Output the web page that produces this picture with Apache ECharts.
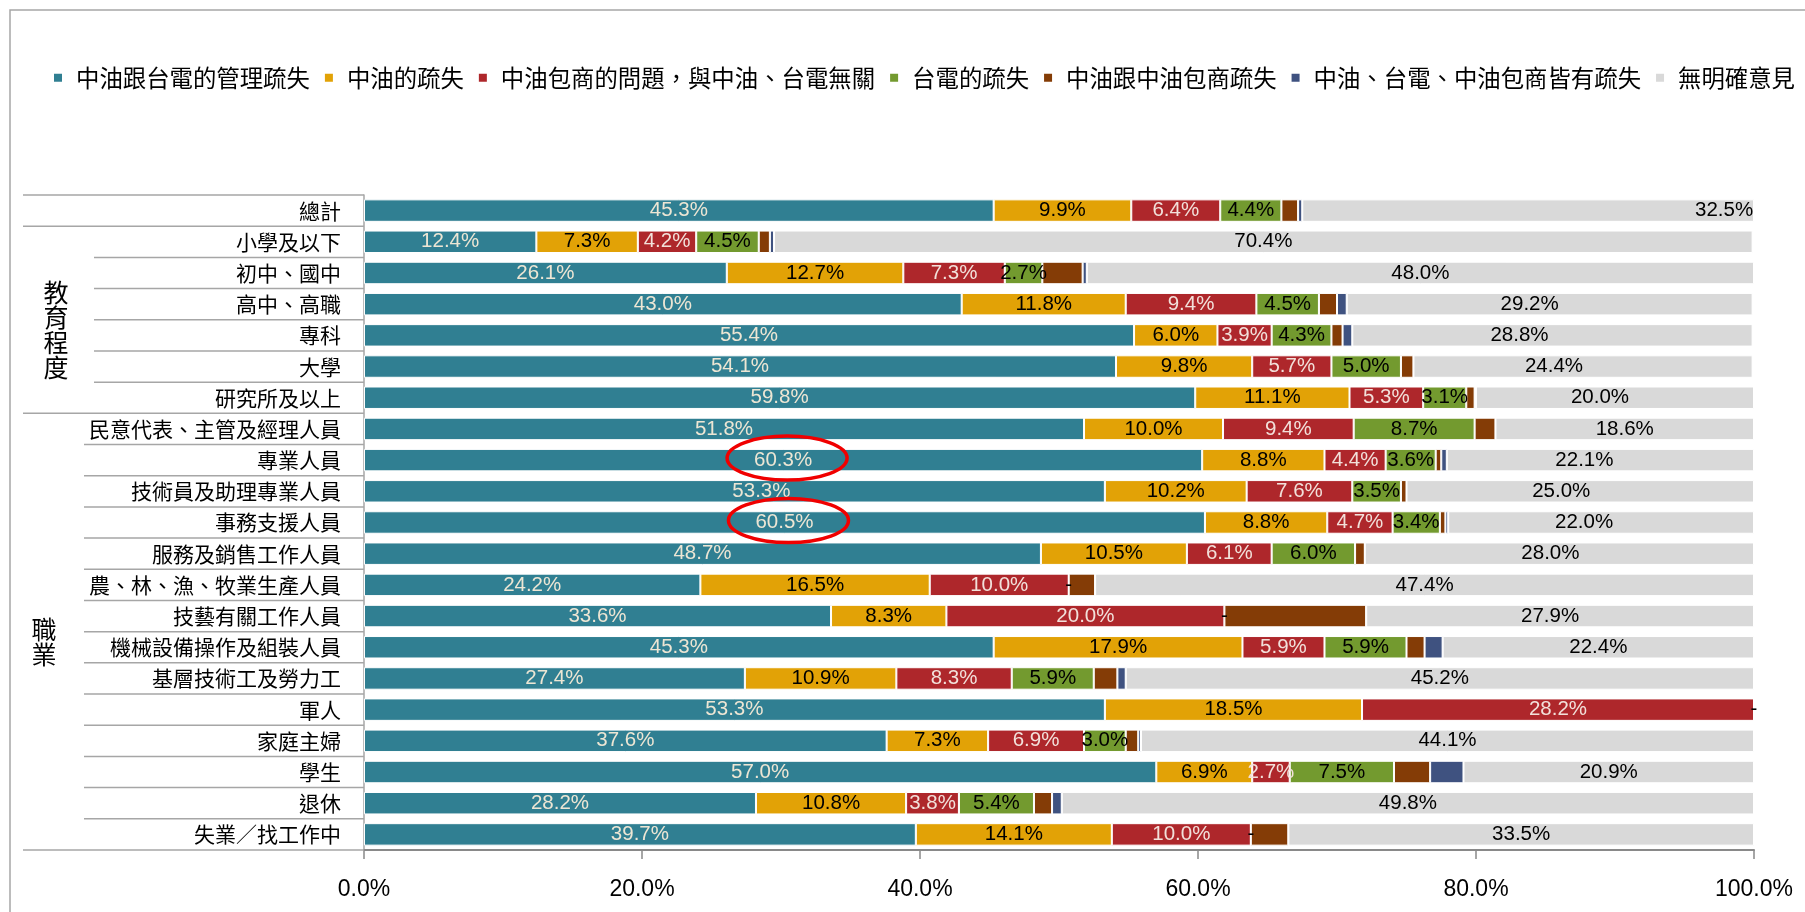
<!DOCTYPE html>
<html>
<head>
<meta charset="utf-8">
<script src="https://cdn.jsdelivr.net/npm/echarts@6/dist/echarts.min.js"></script>
<style>
html,body{margin:0;padding:0;background:#fff;}
#main{width:1805px;height:912px;}
</style>
</head>
<body>
<div id="main"></div>
<script>
// ---------- data ----------
const categories = ['總計','小學及以下','初中、國中','高中、高職','專科','大學','研究所及以上',
  '民意代表、主管及經理人員','專業人員','技術員及助理專業人員','事務支援人員','服務及銷售工作人員',
  '農、林、漁、牧業生產人員','技藝有關工作人員','機械設備操作及組裝人員','基層技術工及勞力工',
  '軍人','家庭主婦','學生','退休','失業／找工作中'];

const seriesNames = ['中油跟台電的管理疏失','中油的疏失','中油包商的問題，與中油、台電無關','台電的疏失',
  '中油跟中油包商疏失','中油、台電、中油包商皆有疏失','無明確意見'];

const mgmtBoth    = [45.3,12.4,26.1,43.0,55.4,54.1,59.8,51.8,60.3,53.3,60.5,48.7,24.2,33.6,45.3,27.4,53.3,37.6,57.0,28.2,39.7];
const cpcOnly     = [9.9,7.3,12.7,11.8,6.0,9.8,11.1,10.0,8.8,10.2,8.8,10.5,16.5,8.3,17.9,10.9,18.5,7.3,6.9,10.8,14.1];
const contractor  = [6.4,4.2,7.3,9.4,3.9,5.7,5.3,9.4,4.4,7.6,4.7,6.1,10.0,20.0,5.9,8.3,28.2,6.9,2.7,3.8,10.0];
const taipowerOnly= [4.4,4.5,2.7,4.5,4.3,5.0,3.1,8.7,3.6,3.5,3.4,6.0,0,0,5.9,5.9,0,3.0,7.5,5.4,0];
const cpcContr    = [1.2,0.8,2.9,1.3,0.8,0.9,0.6,1.5,0.4,0.4,0.4,0.7,1.9,10.2,1.3,1.7,0,0.9,2.6,1.3,2.7];
const allThree    = [0.3,0.3,0.3,0.7,0.7,0,0.1,0,0.4,0,0.2,0,0,0,1.3,0.6,0,0.2,2.4,0.7,0];
const noOpinion   = [32.5,70.4,48.0,29.2,28.8,24.4,20.0,18.6,22.1,25.0,22.0,28.0,47.4,27.9,22.4,45.2,0,44.1,20.9,49.8,33.5];

const xTicks = [0,20,40,60,80,100];
const groups = [
  {name:'教育程度', from:'小學及以下', to:'研究所及以上'},
  {name:'職業', from:'民意代表、主管及經理人員', to:'失業／找工作中'}
];
const highlightRows = ['專業人員','事務支援人員'];

// ---------- styles ----------
const colors = ['#307F92','#E2A206','#AE272B','#739A2F','#843C06','#3F5280','#D9D9D9'];
const labelColors = ['#EDE6D4','#000','#F2E0DA','#000',null,null,'#000'];
const zeroDash = [false,false,false,true,false,false,false];
const seriesData = [mgmtBoth,cpcOnly,contractor,taipowerOnly,cpcContr,allThree,noOpinion];
const NUMF = '"Liberation Sans", Arial, sans-serif';
const CJKF = '"Noto Sans CJK TC", "Noto Sans CJK SC", sans-serif';

// manual label nudges seen in the reference (pixels; layout only)
const labelNudge = {
  6: {'總計':196,'高中、高職':-20,'專科':-33,'大學':-29,'研究所及以上':-15,'專業人員':-16,
      '技術員及助理專業人員':-19,'事務支援人員':-17,'服務及銷售工作人員':-9,'技藝有關工作人員':-10},
  0: {'技術員及助理專業人員':27}
};

const series = seriesNames.map((n,k)=>({
  name:n, type:'bar', stack:'total', barCategoryGap:'28%',
  data: seriesData[k].map((v,i)=>{
    const nud = labelNudge[k] && labelNudge[k][categories[i]];
    return nud ? {value:v, label:{offset:[nud,0]}} : v;
  }),
  itemStyle:{color:colors[k], borderColor:'#ffffff', borderWidth:1},
  label:{
    show: labelColors[k]!==null, position:'inside',
    color: labelColors[k] || '#000',
    fontFamily:NUMF, fontSize:20.5,
    formatter: p => p.value===0 ? (zeroDash[k] ? '-' : '') : p.value.toFixed(1)+'%'
  },
  emphasis:{disabled:true}
}));

const option = {
  animation:false,
  backgroundColor:'#fff',
  legend:{
    left:52, top:66, width:1790, padding:0, itemWidth:10, itemHeight:10, itemGap:13, icon:'rect',
    data:seriesNames,
    textStyle:{fontFamily:CJKF, fontSize:23.4, color:'#000', padding:[0,0,0,8]}
  },
  grid:{left:364, right:51, top:195, bottom:62, containLabel:false},
  xAxis:{
    type:'value', min:0, max:100, interval:20,
    axisLine:{show:true, lineStyle:{color:'#898989', width:2}},
    axisTick:{show:true, length:9, lineStyle:{color:'#898989', width:1.5}},
    splitLine:{show:false},
    axisLabel:{fontFamily:NUMF, fontSize:23, color:'#000', margin:28,
      formatter: v => xTicks.includes(v) ? v.toFixed(1)+'%' : ''}
  },
  yAxis:{
    type:'category', inverse:true, data:categories,
    axisLine:{show:true, lineStyle:{color:'#a6a6a6', width:1.5}},
    axisTick:{show:false},
    axisLabel:{fontFamily:CJKF, fontSize:21, color:'#000', margin:23}
  },
  series
};

const chart = echarts.init(document.getElementById('main'), null, {renderer:'canvas'});
chart.setOption(option);

// ---------- decorations computed from the axes ----------
function decor(){
  const yc = c => chart.convertToPixel({yAxisIndex:0}, c);
  const xc = v => chart.convertToPixel({xAxisIndex:0}, v);
  const pitch = yc(categories[1]) - yc(categories[0]);
  const x0 = xc(0);
  const g = [];
  // outer frame
  g.push({type:'rect', z:100, shape:{x:10,y:10,width:2000,height:1200}, style:{fill:null, stroke:'#a6a6a6', lineWidth:1.5}, silent:true});
  // category separators
  const groupIdx = groups.map(gr=>({name:gr.name, a:categories.indexOf(gr.from), b:categories.indexOf(gr.to)}));
  for(let b=0;b<=categories.length;b++){
    const y = yc(categories[0]) + (b-0.5)*pitch;
    let xs = 23;
    if (b>groupIdx[0].a && b<=groupIdx[0].b) xs = 94;
    else if (b>groupIdx[1].a && b<=groupIdx[1].b) xs = 84;
    g.push({type:'line', z:100, shape:{x1:xs,y1:y,x2:x0,y2:y}, style:{stroke:'#a6a6a6', lineWidth:1.5}, silent:true});
  }
  // group labels
  const gx = [56, 44];
  groupIdx.forEach((gr,i)=>{
    const cy = (yc(categories[gr.a]) + yc(categories[gr.b]))/2 + 10;
    g.push({type:'text', z:100, x:gx[i], y:cy, silent:true,
      style:{text:gr.name.split('').join('\n'), fontFamily:CJKF, fontSize:25, lineHeight:25,
        fill:'#000', align:'center', verticalAlign:'middle'}});
  });
  // red ellipses
  highlightRows.forEach(r=>{
    const idx = categories.indexOf(r);
    const cx = xc(mgmtBoth[idx]/2) + 4;
    const cy = yc(r) - 2;
    g.push({type:'ellipse', z:100, shape:{cx:cx, cy:cy, rx:60, ry:22}, silent:true,
      style:{fill:null, stroke:'#F00000', lineWidth:3.5}});
  });
  chart.setOption({graphic:{elements:g}});
}
decor();
</script>
</body>
</html>
